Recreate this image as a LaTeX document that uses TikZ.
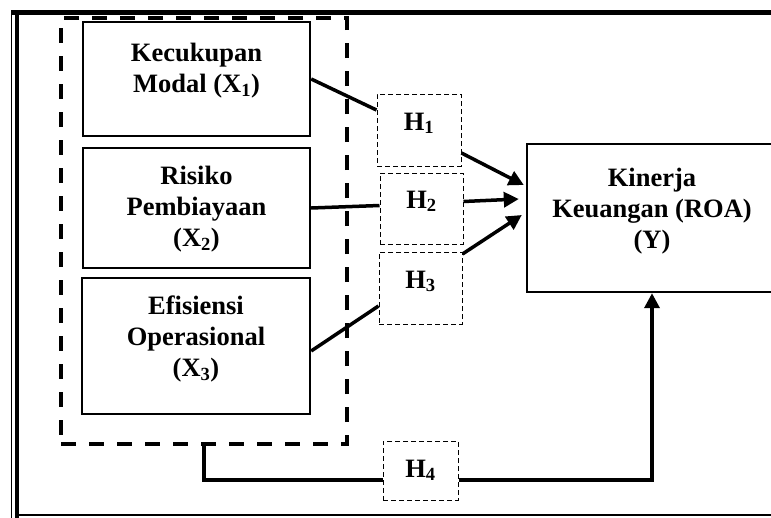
\documentclass[tikz,border=0pt]{standalone}
\usepackage{fontspec}
\setmainfont{Liberation Serif}
\usetikzlibrary{arrows.meta}

\begin{document}
\begin{tikzpicture}[x=1pt,y=-1pt,
		varbox/.style={draw, line width=2.4pt, inner sep=0pt},
		hbox/.style={draw, line width=1pt, dash pattern=on 5pt off 3pt, inner sep=0pt},
		lbl/.style={font=\bfseries\fontsize{26.5}{31}\selectfont, align=center, inner sep=0pt},
		link/.style={line width=3.5pt},
		arr/.style={line width=3.5pt, -{Triangle[length=15pt,width=15pt]}}]
		\useasboundingbox (0,0) rectangle (771,517);
		% frame
		\draw[line width=5pt] (11,12.5) to (790,12.5);
		\draw[line width=1.5pt] (11.5,10) to (11.5,520);
		\draw[line width=4pt] (17,10) to (17,520);
		\draw[line width=1.5pt] (15,515) to (790,515);
		% variables
		\node[draw, line width=4pt, dash pattern=on 15pt off 13pt, minimum width=286, minimum height=426] (grp) at (204,231) {};
		\node[varbox, minimum width=227, minimum height=114] (x1) at (196.5,79) {};
		\node[varbox, minimum width=227, minimum height=120] (x2) at (196.5,208) {};
		\node[varbox, minimum width=228, minimum height=136] (x3) at (196,346) {};
		\node[varbox, minimum width=250, minimum height=148] (ybox) at (652,218) {};
		\node[lbl] at (196.5,71) {Kecukupan\\Modal (X\textsubscript{1})};
		\node[lbl] at (196.5,209.5) {Risiko\\Pembiayaan\\(X\textsubscript{2})};
		\node[lbl] at (196,339) {Efisiensi\\Operasional\\(X\textsubscript{3})};
		\node[lbl] at (652,211) {Kinerja\\Keuangan (ROA)\\(Y)};
		% hypotheses
		\node[hbox, minimum width=84, minimum height=72] (h1) at (419,130) {};
		\node[hbox, minimum width=83, minimum height=71] (h2) at (421.5,208.5) {};
		\node[hbox, minimum width=83, minimum height=72] (h3) at (420.5,288) {};
		\node[hbox, minimum width=75, minimum height=59] (h4) at (420.5,470.5) {};
		\node[lbl, anchor=base] at (419,130) {H\textsubscript{1}};
		\node[lbl, anchor=base] at (421.5,208) {H\textsubscript{2}};
		\node[lbl, anchor=base] at (420.5,288) {H\textsubscript{3}};
		\node[lbl, anchor=base] at (420.5,477) {H\textsubscript{4}};
		% paths
		\draw[link] (x1.east) to ([yshift=20pt]h1.west);
		\draw[arr] ([yshift=-23pt]h1.east) to ([xshift=-2pt,yshift=33pt]ybox.west);
		\draw[link] (x2.east) to ([yshift=3pt]h2.west);
		\draw[arr] ([yshift=7pt]h2.east) to ([xshift=-7pt,yshift=19pt]ybox.west);
		\draw[link] ([yshift=-5pt]x3.east) to ([yshift=-18pt]h3.west);
		\draw[arr] ([yshift=34pt]h3.east) to ([xshift=-4pt,yshift=3pt]ybox.west);
		\draw[link] (grp.south) |- ([yshift=-9.5pt]h4.west);
		\draw[arr] ([yshift=-9.5pt]h4.east) -| (ybox.south);
	\end{tikzpicture}
\end{document}
